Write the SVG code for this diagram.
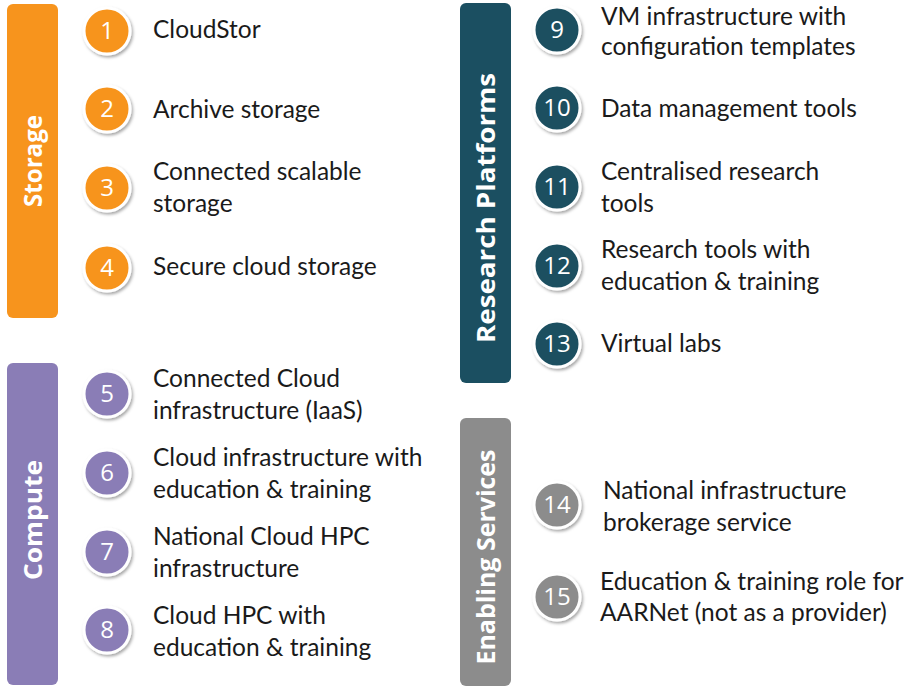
<svg xmlns="http://www.w3.org/2000/svg" width="911" height="686" viewBox="0 0 911 686">
<defs>
<filter id="sh" x="-30%" y="-30%" width="170%" height="170%">
<feDropShadow dx="1.5" dy="2" stdDeviation="1.6" flood-color="#000" flood-opacity="0.35"/>
</filter>
<style>
.lbl{font-family:Lato,"Open Sans",sans-serif;font-size:24.5px;fill:#1a1a1a}
.num{font-family:"Open Sans",Lato,sans-serif;font-size:24px;fill:#fff;text-anchor:middle}
.bar{font-family:"Open Sans",Lato,sans-serif;font-size:25px;font-weight:bold;fill:#fff;text-anchor:middle}
.c{stroke:#fff;stroke-width:3;filter:url(#sh)}
.or{fill:#F7941D}.pu{fill:#8A7DB6}.te{fill:#1B4F61}.gr{fill:#8C8C8C}
</style>
</defs>
<g id="storage">
<rect class="or" x="7" y="4" width="51" height="314" rx="6"/>
<text class="bar" transform="translate(42,161) rotate(-90)" textLength="92" lengthAdjust="spacingAndGlyphs">Storage</text>
</g>
<g id="compute">
<rect class="pu" x="7" y="363" width="51" height="322" rx="6"/>
<text class="bar" transform="translate(42,520) rotate(-90)" textLength="120" lengthAdjust="spacingAndGlyphs">Compute</text>
</g>
<g id="research">
<rect class="te" x="460" y="3" width="51" height="380" rx="6"/>
<text class="bar" transform="translate(495,208) rotate(-90)" textLength="270" lengthAdjust="spacingAndGlyphs">Research Platforms</text>
</g>
<g id="enabling">
<rect class="gr" x="460" y="418" width="51" height="268" rx="6"/>
<text class="bar" transform="translate(495,557) rotate(-90)" textLength="215" lengthAdjust="spacingAndGlyphs">Enabling Services</text>
</g>
<g id="n1"><circle class="c or" cx="107" cy="31" r="23"/><text class="num" x="107" y="39">1</text><text class="lbl" x="153" y="38">CloudStor</text></g>
<g id="n2"><circle class="c or" cx="107" cy="109" r="23"/><text class="num" x="107" y="117">2</text><text class="lbl" x="153" y="118">Archive storage</text></g>
<g id="n3"><circle class="c or" cx="107" cy="188" r="23"/><text class="num" x="107" y="196">3</text><text class="lbl" x="153" y="180">Connected scalable</text><text class="lbl" x="153" y="212">storage</text></g>
<g id="n4"><circle class="c or" cx="107" cy="268" r="23"/><text class="num" x="107" y="276">4</text><text class="lbl" x="153" y="275">Secure cloud storage</text></g>
<g id="n5"><circle class="c pu" cx="107" cy="394" r="23"/><text class="num" x="107" y="402">5</text><text class="lbl" x="153" y="387">Connected Cloud</text><text class="lbl" x="153" y="419">infrastructure (IaaS)</text></g>
<g id="n6"><circle class="c pu" cx="107" cy="473" r="23"/><text class="num" x="107" y="481">6</text><text class="lbl" x="153" y="466">Cloud infrastructure with</text><text class="lbl" x="153" y="498">education &amp; training</text></g>
<g id="n7"><circle class="c pu" cx="107" cy="552" r="23"/><text class="num" x="107" y="560">7</text><text class="lbl" x="153" y="545">National Cloud HPC</text><text class="lbl" x="153" y="577">infrastructure</text></g>
<g id="n8"><circle class="c pu" cx="107" cy="630" r="23"/><text class="num" x="107" y="638">8</text><text class="lbl" x="153" y="624">Cloud HPC with</text><text class="lbl" x="153" y="656">education &amp; training</text></g>
<g id="n9"><circle class="c te" cx="557" cy="30" r="23"/><text class="num" x="557" y="38">9</text><text class="lbl" x="601" y="25">VM infrastructure with</text><text class="lbl" x="601" y="55">configuration templates</text></g>
<g id="n10"><circle class="c te" cx="557" cy="108" r="23"/><text class="num" x="557" y="116">10</text><text class="lbl" x="601" y="117">Data management tools</text></g>
<g id="n11"><circle class="c te" cx="557" cy="187" r="23"/><text class="num" x="557" y="195">11</text><text class="lbl" x="601" y="180">Centralised research</text><text class="lbl" x="601" y="212">tools</text></g>
<g id="n12"><circle class="c te" cx="557" cy="266" r="23"/><text class="num" x="557" y="274">12</text><text class="lbl" x="601" y="258">Research tools with</text><text class="lbl" x="601" y="290">education &amp; training</text></g>
<g id="n13"><circle class="c te" cx="557" cy="344" r="23"/><text class="num" x="557" y="352">13</text><text class="lbl" x="601" y="352">Virtual labs</text></g>
<g id="n14"><circle class="c gr" cx="557" cy="505" r="23"/><text class="num" x="557" y="513">14</text><text class="lbl" x="603" y="499">National infrastructure</text><text class="lbl" x="603" y="531">brokerage service</text></g>
<g id="n15"><circle class="c gr" cx="557" cy="597" r="23"/><text class="num" x="557" y="605">15</text><text class="lbl" x="600" y="590">Education &amp; training role for</text><text class="lbl" x="600" y="621">AARNet (not as a provider)</text></g>
<g id="connectors"/>
</svg>
